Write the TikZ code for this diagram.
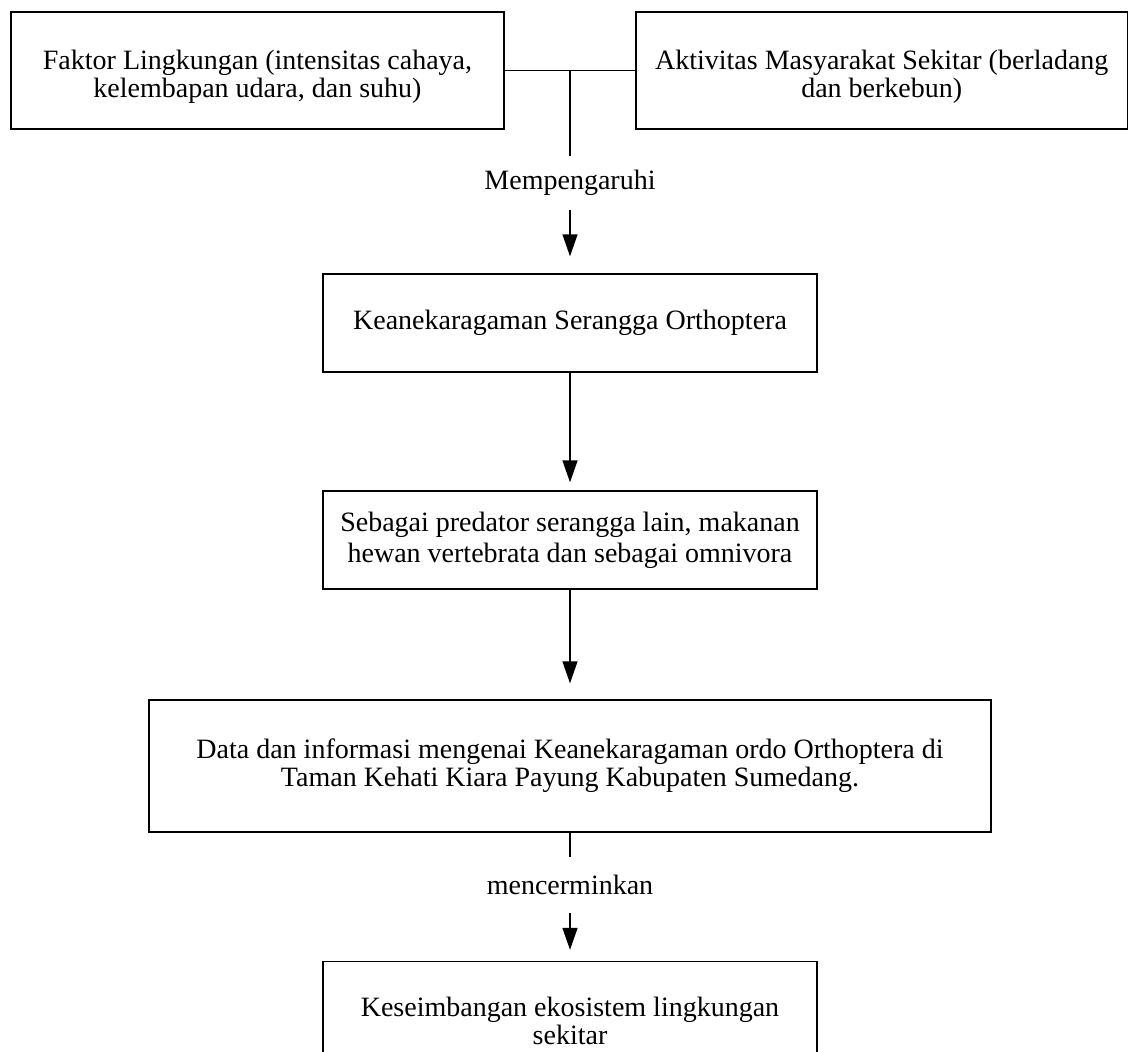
\documentclass[tikz,border=0pt]{standalone}
\usepackage{fontspec}
\setmainfont{Liberation Serif}
\usetikzlibrary{arrows.meta,positioning,calc}

\begin{document}
\begin{tikzpicture}[x=0.5pt, y=-0.5pt,
    box/.style={draw, line width=0.7pt, align=center, inner sep=0pt,
        font=\fontsize{14}{14}\selectfont},
    lbl/.style={inner sep=0pt, minimum height=27pt,
        font=\fontsize{14}{14}\selectfont},
    link/.style={line width=0.7pt},
    arr/.style={line width=0.7pt, -{Triangle[length=11pt,width=7.5pt]}}]
    % Frame
    \useasboundingbox (0,0) rectangle (1128,1051);
    \clip (0,0) rectangle (1128,1051);

    % Top row
    \node[box, minimum width=246.5pt, minimum height=58.5pt] (faktor) at (257.5,70.5)
        {\rule{0pt}{16pt}Faktor Lingkungan (intensitas cahaya,\\ kelembapan udara, dan suhu)};
    \node[box, minimum width=245.75pt, minimum height=58.5pt] (aktivitas) at (881.75,70.5)
        {\rule{0pt}{16pt}Aktivitas Masyarakat Sekitar (berladang\\ dan berkebun)};
    \coordinate (jct) at (570,70.5);

    % Chain of boxes
    \node[lbl] (pengaruh) at (570,183) {Mempengaruhi};
    \node[box, minimum width=247pt, minimum height=49pt] (ragam) at (570,323)
        {Keanekaragaman Serangga Orthoptera};
    \node[box, minimum width=247pt, minimum height=49pt,
        font=\fontsize{14}{15.5}\selectfont] (peran) at (570,540)
        {Sebagai predator serangga lain, makanan\\ hewan vertebrata dan sebagai omnivora};
    \node[box, minimum width=421pt, minimum height=66pt] (data) at (570,766)
        {Data dan informasi mengenai Keanekaragaman ordo Orthoptera di\\ Taman Kehati Kiara Payung Kabupaten Sumedang.};
    \node[lbl, minimum height=28pt] (cermin) at (570,885) {mencerminkan};
    \node[box, minimum width=247pt, minimum height=59pt] (imbang) at (570,1020.5)
        {Keseimbangan ekosistem lingkungan\\ sekitar};

    % Connectors
    \draw[link] (faktor.east) -- (aktivitas.west);
    \draw[link] (jct) -- (pengaruh.north);
    \draw[arr, shorten >=8.5pt] (pengaruh.south) -- (ragam.north);
    \draw[arr, shorten >=4pt] (ragam.south) -- (peran.north);
    \draw[arr, shorten >=8pt] (peran.south) -- (data.north);
    \draw[link] (data.south) -- (cermin.north);
    \draw[arr, shorten >=5.5pt] (cermin.south) -- (imbang.north);
\end{tikzpicture}
\end{document}
